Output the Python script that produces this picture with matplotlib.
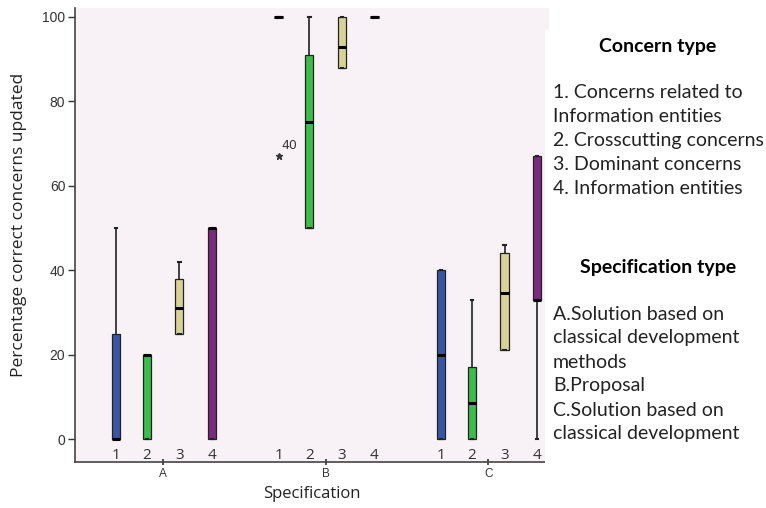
import numpy as np
import matplotlib.pyplot as plt

##### DATA #####
specs = ['A', 'B', 'C']
concerns = ['1', '2', '3', '4']
# per spec, per concern type: whisker low, q1, median, q3, whisker high
whislo = [[0, 0, 25, 0], [100, 50, 88, 100], [0, 0, 21, 0]]
q1 = [[0, 0, 25, 0], [100, 50, 88, 100], [0, 0, 21, 33]]
med = [[0, 20, 31, 50], [100, 75, 93, 100], [20, 8.5, 34.5, 33]]
q3 = [[25, 20, 38, 50], [100, 91, 100, 100], [40, 17, 44, 67]]
whishi = [[50, 20, 42, 50], [100, 100, 100, 100], [40, 33, 46, 67]]
outliers = {(1, 0): [(67, '40')]}

colors = ['#3a55a4', '#3cbd4b', '#d8d198', '#7c2a7e']
offsets = [-0.29, -0.1, 0.1, 0.3]

concern_text = ["1. Concerns related to", "Information entities", "2. Crosscutting concerns",
                "3. Dominant concerns", "4. Information entities"]
spec_text = ["A.Solution based on", "classical development", "methods", "B.Proposal",
             "C.Solution based on", "classical development"]

fig = plt.figure(figsize=(7.66, 5.08), dpi=100)
ax = fig.add_axes([0.098, 0.0906, 0.619, 0.8934])
ax.set_facecolor('#f8f2f6')

for g in range(len(specs)):
    for k in range(len(concerns)):
        st = dict(whislo=whislo[g][k], q1=q1[g][k], med=med[g][k], q3=q3[g][k],
                  whishi=whishi[g][k], fliers=[])
        pos = g + offsets[k]
        ax.bxp([st], positions=[pos], widths=0.05, patch_artist=True,
               showfliers=False,
               boxprops=dict(facecolor=colors[k], edgecolor='#222222', linewidth=0.9),
               medianprops=dict(color='black', linewidth=2.2),
               whiskerprops=dict(color='#222222', linewidth=1.2),
               capprops=dict(color='#222222', linewidth=1.5),
               capwidths=0.015)
        ax.text(pos, -3.8, concerns[k], ha='center', va='center', fontsize=11,
                family='Open Sans', color='#333333')
        for val, lab in outliers.get((g, k), []):
            ax.plot(pos, val, marker='*', color='#333333', markersize=5, linestyle='none')
            ax.text(pos + 0.015, val + 1, lab, fontsize=9, color='#333333', va='bottom')

ax.set_xlim(-0.5415, 2.375)
ax.set_ylim(-5.44, 102.1)
ax.set_xticks(range(len(specs)))
ax.set_xticklabels(specs, fontsize=8.5, family='Liberation Sans', color='#333333')
ax.set_yticks([0, 20, 40, 60, 80, 100])
ax.tick_params(axis='y', labelsize=10, length=5, colors='#333333', width=1, pad=2)
ax.tick_params(axis='x', length=5, width=1.2, direction='inout', pad=2, colors='#333333')
for lab in ax.get_yticklabels():
    lab.set_family('Liberation Sans')
for s in ['top', 'right']:
    ax.spines[s].set_visible(False)
for s in ['left', 'bottom']:
    ax.spines[s].set_color('#444444')
    ax.spines[s].set_linewidth(1.2)

ax.set_xlabel('Specification', fontsize=12, family='Open Sans', color='#222222', labelpad=4)
ax.set_ylabel('Percentage correct concerns updated', fontsize=12.5, family='Open Sans',
              color='#222222')
ax.yaxis.set_label_coords(-0.102, 0.522)

# legend panel
fig.patches.append(plt.Rectangle((545 / 766, 30 / 508), 221 / 766, 448 / 508,
                                 transform=fig.transFigure, facecolor='white',
                                 edgecolor='none', zorder=5))
fig.text(658 / 766, 1 - 46 / 508, 'Concern type', ha='center', va='center',
         fontsize=14, fontweight='bold', family='Lato', zorder=6)
for i, t in enumerate(concern_text):
    fig.text(553 / 766, 1 - (93 + i * 23.8) / 508, t, ha='left', va='center',
             fontsize=14, family='Lato', color='#222222', zorder=6)
fig.text(658 / 766, 1 - 267 / 508, 'Specification type', ha='center', va='center',
         fontsize=14, fontweight='bold', family='Lato', zorder=6)
for i, t in enumerate(spec_text):
    fig.text(553 / 766, 1 - (314 + i * 24) / 508, t, ha='left', va='center',
             fontsize=14, family='Lato', color='#222222', zorder=6)

plt.savefig('out.png', dpi=100)
